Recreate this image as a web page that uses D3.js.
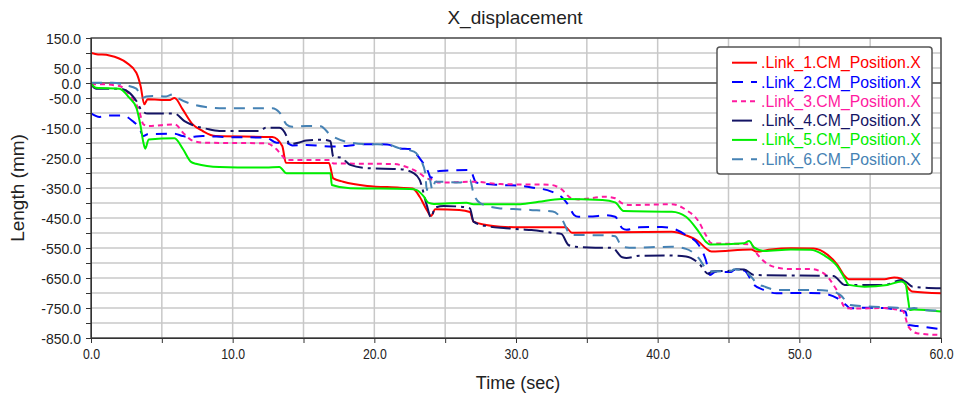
<!DOCTYPE html>
<html>
<head>
<meta charset="utf-8">
<title>X_displacement</title>
<script src="https://cdn.jsdelivr.net/npm/d3@7"></script>
<style>
  html, body { margin: 0; padding: 0; background: #ffffff; }
  svg { display: block; font-family: "Liberation Sans", Arial, sans-serif; }
</style>
</head>
<body>
<svg id="chart" width="961" height="395"></svg>
<script>
// Time samples (sec) and X position (mm) for each link's centre of mass
const link1T = [0, 0.3, 1.3, 2.5, 3.2, 3.5, 3.76, 4.0, 5.5, 5.9, 6.47, 7.18, 7.88, 8.8, 12.8, 13.5, 13.76, 16.8, 17.1, 17.8, 19.5, 21.8, 22.7, 23.2, 23.7, 24.0, 24.3, 26.0, 26.75, 27.0, 27.9, 28.9, 30.3, 33.5, 33.95, 41.0, 41.95, 42.9, 43.4, 43.8, 46.6, 47.0, 48.0, 49.4, 51.0, 52.0, 52.7, 53.2, 53.5, 56.0, 56.7, 57.2, 57.6, 57.96, 60];
const link1X = [100, 97, 92, 68, 34, -10, -71, -54, -57, -50, -88, -138, -160, -177, -180, -210, -266, -267, -318, -329, -343, -349, -352, -379, -423, -443, -421, -423, -430, -462, -473, -479, -481, -481, -499, -496, -507, -529, -551, -562, -555, -562, -555, -551, -552, -573, -607, -643, -654, -654, -648, -652, -679, -695, -701];

const link2T = [0, 0.6, 1.3, 2.24, 2.94, 3.4, 3.7, 4.0, 5.9, 6.47, 6.94, 7.88, 9.5, 12.35, 13.1, 13.8, 14.2, 15.2, 17.1, 19.5, 20.9, 21.8, 22.5, 23.2, 23.8, 24.0, 24.2, 24.6, 26.75, 27.2, 28.9, 30.3, 31.1, 32.5, 33.2, 33.7, 34.1, 34.4, 35.8, 36.3, 37.0, 37.5, 37.8, 38.7, 40.3, 41.0, 42.0, 42.9, 43.4, 43.7, 44.1, 45.2, 45.4, 46.1, 46.8, 47.5, 48.4, 49.4, 50.8, 51.7, 52.7, 53.3, 53.6, 54.8, 56.0, 56.9, 57.5, 57.7, 58.3, 60];
const link2X = [-101, -113, -108, -108, -127, -149, -177, -171, -169, -177, -180, -177, -180, -182, -199, -200, -208, -207, -212, -204, -205, -218, -220, -251, -296, -318, -300, -293, -290, -332, -340, -343, -348, -362, -379, -407, -440, -446, -443, -441, -446, -484, -489, -481, -480, -484, -507, -540, -590, -640, -629, -630, -623, -625, -673, -690, -701, -700, -700, -702, -718, -740, -751, -749, -750, -757, -762, -807, -810, -821];

const link3T = [0, 0.6, 2.0, 2.7, 3.4, 3.7, 4.0, 5.9, 6.6, 7.2, 8.1, 12.35, 13.1, 13.5, 13.8, 16.9, 17.1, 21.3, 22.5, 23.2, 23.7, 24.05, 24.6, 27.0, 28.9, 30.3, 31.1, 32.5, 33.2, 33.9, 34.4, 36.3, 37.0, 37.5, 38.0, 41.0, 42.0, 42.9, 43.4, 43.8, 46.6, 46.9, 47.4, 48.3, 49.3, 50.8, 51.7, 52.6, 53.3, 54.0, 55.9, 57.3, 57.7, 58.3, 60];
const link3X = [-4, -4, -10, -38, -93, -138, -143, -138, -171, -193, -199, -201, -221, -243, -257, -257, -268, -270, -284, -301, -318, -322, -332, -329, -337, -338, -338, -340, -354, -384, -388, -379, -384, -401, -407, -404, -423, -462, -507, -534, -538, -562, -590, -614, -620, -620, -634, -687, -751, -752, -750, -760, -812, -834, -840];

const link4T = [0, 0.35, 2.0, 2.7, 3.2, 3.6, 4.0, 5.9, 6.6, 7.2, 8.1, 9.06, 11.9, 12.35, 13.3, 13.8, 14.0, 14.7, 15.2, 16.4, 16.9, 17.1, 17.6, 18.3, 19.5, 21.8, 22.8, 23.2, 23.7, 24.0, 24.3, 24.9, 26.0, 26.75, 27.0, 27.9, 29.3, 30.3, 31.1, 32.5, 33.2, 33.7, 34.2, 35.6, 36.8, 37.5, 37.8, 38.7, 40.5, 42.0, 42.9, 43.6, 43.8, 45.2, 45.4, 46.1, 46.8, 52.4, 53.2, 56.0, 57.2, 57.5, 58.0, 60];
const link4X = [-4, -19, -19, -32, -60, -93, -102, -102, -127, -141, -152, -160, -160, -149, -149, -177, -204, -198, -192, -189, -194, -246, -248, -273, -284, -287, -301, -323, -407, -448, -415, -410, -412, -418, -462, -477, -484, -488, -490, -499, -503, -540, -546, -549, -549, -581, -583, -576, -575, -578, -601, -637, -628, -626, -621, -622, -640, -643, -673, -673, -657, -662, -679, -684];

const link5T = [0, 0.35, 2.0, 2.7, 3.2, 3.5, 3.7, 3.83, 4.07, 5.9, 6.5, 7.06, 7.4, 9.06, 12.35, 13.3, 13.8, 16.9, 17.0, 18.3, 22.5, 23.0, 23.5, 23.8, 24.2, 26.5, 27.0, 30.3, 31.6, 33.2, 36.1, 37.0, 37.6, 41.0, 42.0, 42.9, 43.4, 43.7, 46.1, 46.45, 46.8, 47.5, 49.4, 50.8, 51.7, 52.7, 53.2, 53.5, 54.6, 56.2, 57.2, 57.5, 57.7, 57.8, 58.1, 60];
const link5X = [0, -16, -19, -49, -82, -143, -199, -219, -188, -184, -221, -263, -269, -280, -282, -280, -301, -301, -340, -351, -353, -357, -379, -399, -403, -399, -404, -404, -396, -387, -390, -398, -427, -429, -446, -496, -529, -538, -534, -527, -548, -560, -555, -556, -573, -612, -651, -673, -679, -673, -662, -670, -729, -757, -755, -762];

const link6T = [0, 1.5, 2.5, 3.2, 3.65, 3.9, 4.35, 5.3, 5.77, 6.2, 7.18, 8.1, 9.06, 12.8, 13.3, 13.8, 14.2, 15.2, 16.2, 16.9, 18.05, 19.5, 20.9, 21.8, 22.8, 23.2, 23.6, 23.7, 23.9, 24.1, 24.3, 24.9, 26.0, 26.75, 27.0, 27.5, 28.9, 29.8, 31.0, 32.6, 33.2, 33.9, 34.4, 36.3, 37.0, 37.5, 38.0, 41.0, 42.0, 42.9, 43.4, 43.8, 45.2, 45.4, 46.1, 46.6, 47.0, 47.5, 48.4, 50.8, 52.2, 52.9, 53.6, 54.8, 56.9, 57.5, 58.1, 58.8, 60];
const link6X = [1, 1, -8, -19, -49, -45, -43, -45, -38, -52, -71, -80, -84, -84, -98, -138, -146, -143, -144, -173, -196, -204, -205, -218, -229, -251, -301, -357, -320, -357, -329, -329, -332, -323, -368, -401, -418, -420, -423, -428, -451, -507, -507, -508, -511, -546, -549, -546, -553, -584, -618, -628, -626, -621, -625, -646, -668, -678, -690, -690, -693, -707, -740, -745, -749, -755, -750, -757, -759];

const seriesNames = [".Link_1.CM_Position.X", ".Link_2.CM_Position.X", ".Link_3.CM_Position.X",
                     ".Link_4.CM_Position.X", ".Link_5.CM_Position.X", ".Link_6.CM_Position.X"];

// Axis ticks
const xTickValues = [0, 5, 10, 15, 20, 25, 30, 35, 40, 45, 50, 55, 60];
const xTickLabels = ["0.0", "10.0", "20.0", "30.0", "40.0", "50.0", "60.0"];
const yTickValues = d3.range(-850, 151, 50);
const yTickLabels = ["150.0", "50.0", "0.0", "-50.0", "-150.0", "-250.0", "-350.0", "-450.0",
                     "-550.0", "-650.0", "-750.0", "-850.0"];

// Line styles per series
const styles = [
  { color: "#ff0000", dash: null },
  { color: "#0000ff", dash: "11,8" },
  { color: "#ff1aa0", dash: "5,4" },
  { color: "#141464", dash: "20,5,3,5" },
  { color: "#00ee00", dash: null },
  { color: "#4682b4", dash: "11,8" }
];

const series = [
  { name: seriesNames[0], t: link1T, v: link1X },
  { name: seriesNames[1], t: link2T, v: link2X },
  { name: seriesNames[2], t: link3T, v: link3X },
  { name: seriesNames[3], t: link4T, v: link4X },
  { name: seriesNames[4], t: link5T, v: link5X },
  { name: seriesNames[5], t: link6T, v: link6X }
].map((s, i) => ({ ...s, ...styles[i], points: s.t.map((t, k) => [t, s.v[k]]) }));

const plot = { left: 91, top: 38, right: 941, bottom: 338 };
const svg = d3.select("#chart");

const x = d3.scaleLinear().domain([0, 60]).range([plot.left, plot.right]);
const y = d3.scaleLinear().domain([-850, 150]).range([plot.bottom, plot.top]);

// Title
svg.append("text")
  .attr("x", 515).attr("y", 24)
  .attr("text-anchor", "middle")
  .attr("font-size", 19).attr("fill", "#222")
  .text("X_displacement");

// Grid
const grid = svg.append("g").attr("class", "grid");
grid.selectAll("line.h").data(yTickValues).join("line")
  .attr("class", "h")
  .attr("x1", plot.left).attr("x2", plot.right)
  .attr("y1", d => y(d)).attr("y2", d => y(d))
  .attr("stroke", "#c8c8c8").attr("stroke-width", 1.5);
grid.selectAll("line.v").data(xTickValues).join("line")
  .attr("class", "v")
  .attr("y1", plot.top).attr("y2", plot.bottom)
  .attr("x1", d => x(d)).attr("x2", d => x(d))
  .attr("stroke", "#c8c8c8").attr("stroke-width", 1.5);

// Zero reference line
svg.append("line")
  .attr("x1", plot.left).attr("x2", plot.right)
  .attr("y1", y(0)).attr("y2", y(0))
  .attr("stroke", "#111").attr("stroke-width", 1.2);

// Plot clipping
svg.append("clipPath").attr("id", "plot-clip")
  .append("rect")
  .attr("x", plot.left).attr("y", plot.top)
  .attr("width", plot.right - plot.left).attr("height", plot.bottom - plot.top);

const line = d3.line()
  .x(d => x(d[0]))
  .y(d => y(d[1]))
  .curve(d3.curveMonotoneX);

svg.append("g").attr("clip-path", "url(#plot-clip)")
  .selectAll("path").data(series).join("path")
  .attr("d", d => line(d.points))
  .attr("fill", "none")
  .attr("stroke", d => d.color)
  .attr("stroke-width", 2)
  .attr("stroke-linejoin", "round")
  .attr("stroke-dasharray", d => d.dash);

// Plot frame
svg.append("rect")
  .attr("x", plot.left).attr("y", plot.top)
  .attr("width", plot.right - plot.left).attr("height", plot.bottom - plot.top)
  .attr("fill", "none").attr("stroke", "#333").attr("stroke-width", 1.2);

// Y axis
const yAxis = d3.axisLeft(y)
  .tickValues(yTickValues)
  .tickSize(5)
  .tickPadding(5)
  .tickFormat(d => {
    const lbl = d3.format(".1f")(d).replace("−", "-");
    return yTickLabels.includes(lbl) ? lbl : "";
  });
const gy = svg.append("g")
  .attr("transform", `translate(${plot.left},0)`)
  .call(yAxis);
gy.select(".domain").attr("stroke", "#333");
gy.selectAll(".tick line").attr("stroke", "#333");
gy.selectAll(".tick text")
  .attr("font-size", 14)
  .attr("font-family", "'Liberation Sans', Arial, sans-serif")
  .attr("fill", "#222")
  .attr("dy", "0.38em");

// X axis
const xAxis = d3.axisBottom(x)
  .tickValues(xTickValues)
  .tickSize(5)
  .tickPadding(0)
  .tickFormat(d => {
    const lbl = d3.format(".1f")(d);
    return xTickLabels.includes(lbl) ? lbl : "";
  });
const gx = svg.append("g")
  .attr("transform", `translate(0,${plot.bottom})`)
  .call(xAxis);
gx.select(".domain").attr("stroke", "#333");
gx.selectAll(".tick line").attr("stroke", "#333");
gx.selectAll(".tick text")
  .attr("font-size", 15)
  .attr("font-family", "'Liberation Sans', Arial, sans-serif")
  .attr("fill", "#222")
  .attr("y", 0).attr("dy", 0)
  .attr("transform", "translate(0,21) scale(0.82,1)");

// Axis titles
svg.append("text")
  .attr("x", 518).attr("y", 389)
  .attr("text-anchor", "middle")
  .attr("font-size", 18).attr("fill", "#222")
  .text("Time (sec)");

svg.append("text")
  .attr("transform", `translate(24,${(plot.top + plot.bottom) / 2}) rotate(-90)`)
  .attr("text-anchor", "middle")
  .attr("font-size", 19).attr("fill", "#222")
  .text("Length (mm)");

// Legend
const legend = svg.append("g").attr("transform", "translate(717,47)");
legend.append("rect")
  .attr("width", 215).attr("height", 127)
  .attr("rx", 3).attr("ry", 3)
  .attr("fill", "#ffffff").attr("stroke", "#555").attr("stroke-width", 1.5);
const rows = legend.selectAll("g.entry").data(series).join("g")
  .attr("class", "entry")
  .attr("transform", (d, i) => `translate(0,${15.7 + i * 19.3})`);
rows.append("line")
  .attr("x1", 15).attr("x2", 40)
  .attr("stroke", d => d.color)
  .attr("stroke-width", 2)
  .attr("stroke-dasharray", d => d.dash);
rows.append("text")
  .attr("x", 44).attr("y", 5.5)
  .attr("font-size", 15.8)
  .attr("fill", d => d.color)
  .text(d => d.name);
</script>
</body>
</html>
